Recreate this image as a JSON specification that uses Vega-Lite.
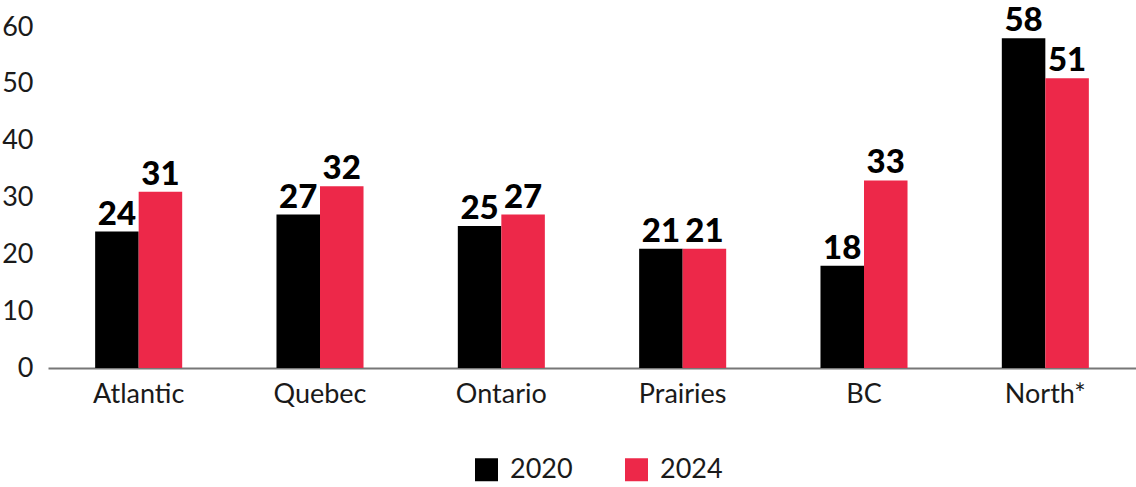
{
  "$schema": "https://vega.github.io/schema/vega-lite/v6.json",
  "autosize": {"type": "none"},
  "width": 1088,
  "height": 341,
  "padding": {"left": 48, "top": 27, "right": 0, "bottom": 119},
  "background": "white",
  "config": {
    "view": {"stroke": null},
    "font": "Lato"
  },
  "data": {
    "values": [
      {"region": "Atlantic", "year": "2020", "value": 24},
      {"region": "Atlantic", "year": "2024", "value": 31},
      {"region": "Quebec", "year": "2020", "value": 27},
      {"region": "Quebec", "year": "2024", "value": 32},
      {"region": "Ontario", "year": "2020", "value": 25},
      {"region": "Ontario", "year": "2024", "value": 27},
      {"region": "Prairies", "year": "2020", "value": 21},
      {"region": "Prairies", "year": "2024", "value": 21},
      {"region": "BC", "year": "2020", "value": 18},
      {"region": "BC", "year": "2024", "value": 33},
      {"region": "North*", "year": "2020", "value": 58},
      {"region": "North*", "year": "2024", "value": 51}
    ]
  },
  "encoding": {
    "x": {
      "field": "region",
      "type": "nominal",
      "sort": null,
      "scale": {"paddingInner": 0.52, "paddingOuter": 0.26},
      "axis": {
        "title": null,
        "labelAngle": 0,
        "labelFontSize": 27,
        "labelColor": "#1a1a1a",
        "labelPadding": 13,
        "ticks": false,
        "domainColor": "#777777",
        "domainWidth": 2
      }
    },
    "xOffset": {"field": "year", "type": "nominal"},
    "y": {
      "field": "value",
      "type": "quantitative",
      "scale": {"domain": [0, 60], "nice": false},
      "axis": {
        "title": null,
        "values": [0, 10, 20, 30, 40, 50, 60],
        "grid": false,
        "domain": false,
        "ticks": false,
        "labelFontSize": 27,
        "labelColor": "#1a1a1a",
        "labelPadding": 15
      }
    }
  },
  "layer": [
    {
      "mark": {"type": "bar"},
      "encoding": {
        "color": {
          "field": "year",
          "type": "nominal",
          "scale": {"domain": ["2020", "2024"], "range": ["#000000", "#ED2849"]},
          "legend": {
            "title": null,
            "orient": "none",
            "direction": "horizontal",
            "legendX": 425,
            "legendY": 429,
            "symbolType": "square",
            "symbolSize": 529,
            "symbolStrokeWidth": 0,
            "labelFontSize": 27,
            "labelColor": "#1a1a1a",
            "labelOffset": 10,
            "columnPadding": 50
          }
        }
      }
    },
    {
      "mark": {"type": "text", "baseline": "alphabetic", "dy": -7, "fontSize": 33, "fontWeight": 900, "color": "#000000"},
      "encoding": {
        "text": {"field": "value", "type": "quantitative"}
      }
    }
  ]
}
